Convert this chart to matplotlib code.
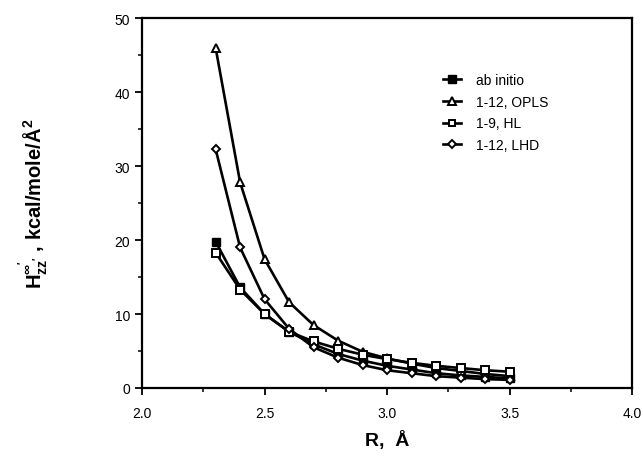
import numpy as np
import matplotlib
matplotlib.use("Agg")
import matplotlib.pyplot as plt
from matplotlib.ticker import MultipleLocator, FormatStrFormatter

plt.rcParams['font.family'] = ['Liberation Sans', 'DejaVu Sans']
plt.rcParams['mathtext.fontset'] = 'custom'
plt.rcParams['mathtext.rm'] = 'Liberation Sans:bold'
plt.rcParams['mathtext.it'] = 'Liberation Sans:bold'
plt.rcParams['mathtext.bf'] = 'Liberation Sans:bold'

R = [2.3, 2.4, 2.5, 2.6, 2.7, 2.8, 2.9, 3.0, 3.1, 3.2, 3.3, 3.4, 3.5]
ab_initio = [19.8, 13.6, 10.0, 7.6, 5.9, 4.6, 3.7, 3.0, 2.5, 2.0, 1.7, 1.5, 1.3]
opls = [46.0, 27.8, 17.4, 11.6, 8.5, 6.4, 4.9, 4.0, 3.3, 2.7, 2.3, 1.9, 1.6]
hl = [18.3, 13.3, 10.0, 7.6, 6.3, 5.3, 4.5, 3.9, 3.4, 3.0, 2.7, 2.4, 2.2]
lhd = [32.3, 19.0, 12.0, 8.0, 5.5, 4.1, 3.1, 2.4, 2.0, 1.6, 1.4, 1.2, 1.1]

fig = plt.figure(figsize=(6.43, 4.77), dpi=100)
ax = fig.add_axes([0.221, 0.1845, 0.762, 0.7755])

lw = 1.9
ax.plot(R, ab_initio, color='black', lw=lw, marker='s', ms=6, mfc='black', mec='black', label='ab initio')
ax.plot(R, opls, color='black', lw=lw, marker='^', ms=6, mfc='white', mec='black', mew=1.4, label='1-12, OPLS')
ax.plot(R, hl, color='black', lw=lw, marker='s', ms=5.5, mfc='white', mec='black', mew=1.4, label='1-9, HL')
ax.plot(R, lhd, color='black', lw=lw, marker='D', ms=4.2, mfc='white', mec='black', mew=1.4, label='1-12, LHD')

ax.set_xlim(2.0, 4.0)
ax.set_ylim(0, 50)
ax.xaxis.set_major_locator(MultipleLocator(0.5))
ax.xaxis.set_minor_locator(MultipleLocator(0.25))
ax.yaxis.set_major_locator(MultipleLocator(10))
ax.yaxis.set_minor_locator(MultipleLocator(5))
ax.xaxis.set_major_formatter(FormatStrFormatter('%.1f'))
ax.tick_params(which='major', direction='out', length=5, width=1.3, labelsize=10, top=False, right=False)
ax.tick_params(which='minor', direction='out', length=3, width=1.1, top=False, right=False)
ax.tick_params(axis='x', pad=8)
for s in ax.spines.values():
    s.set_linewidth(1.6)

ax.set_xlabel('R,  Å', fontsize=14, fontweight='bold', labelpad=7)
ax.set_ylabel(r"$\mathbf{H^{\infty'}_{zz'}}$ , kcal/mole/Å$^{\mathbf{2}}$", fontsize=14.5,
              fontweight='bold', labelpad=46)

ax.legend(loc='upper left', bbox_to_anchor=(0.6, 0.87), frameon=False, fontsize=10,
          handlelength=1.3, handletextpad=1.1, labelspacing=0.55, borderpad=0, markerscale=0.9)

fig.savefig('out.png', dpi=100)
